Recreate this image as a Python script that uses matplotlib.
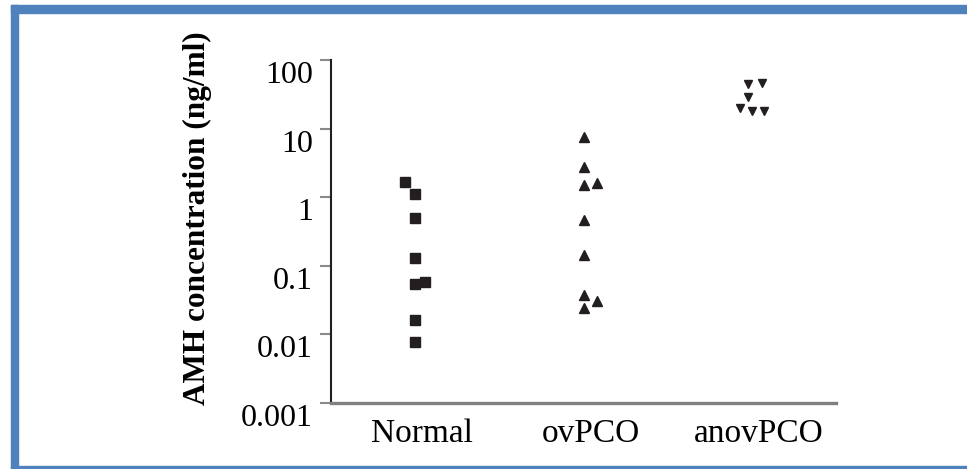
import matplotlib.pyplot as plt
import matplotlib.transforms as mtransforms
from matplotlib.patches import Rectangle

# grupos e valores de AMH (ng/ml)
grupos = ["Normal", "ovPCO", "anovPCO"]

normal_x = [0.94, 1.0, 1.0, 1.0, 1.0, 1.06, 1.0, 1.0]
normal_y = [1.67, 1.11, 0.50, 0.13, 0.054, 0.058, 0.016, 0.0077]

ovpco_x = [2.0, 2.0, 2.0, 2.08, 2.0, 2.0, 2.0, 2.08, 2.0]
ovpco_y = [7.5, 2.75, 1.5, 1.6, 0.47, 0.144, 0.037, 0.031, 0.024]

anovpco_x = [2.98, 3.06, 2.98, 2.93, 3.0, 3.07]
anovpco_y = [44, 46, 29, 20, 18, 18]

yticks = [0.001, 0.01, 0.1, 1, 10, 100]
yticklabels = ["0.001", "0.01", "0.1", "1", "10", "100"]

cor = "#231f20"
azul = "#4f81bd"

plt.rcParams["font.family"] = ["Liberation Serif", "DejaVu Serif"]

fig = plt.figure(figsize=(9.67, 4.69), dpi=100)
ax = fig.add_axes([331 / 967, 1 - 403 / 469, (836 - 331) / 967, (403 - 60) / 469])

ax.plot(normal_x, normal_y, "s", color=cor, markersize=6.5, linestyle="none")
ax.plot(ovpco_x, ovpco_y, "^", color=cor, markersize=6.5, linestyle="none")
ax.plot(anovpco_x, anovpco_y, "v", color=cor, markersize=6, linestyle="none")

ax.set_yscale("log")
ax.set_ylim(0.001, 100)
ax.set_xlim(0.5, 3.5)
ax.set_yticks(yticks)
ax.set_yticklabels(yticklabels, fontsize=23)
ax.minorticks_off()
ax.set_xticks([1, 2, 3])
ax.set_xticklabels(grupos, fontsize=24)

ax.tick_params(axis="y", length=8, width=1.5, color="#8a8a8a", pad=5)
ax.tick_params(axis="x", length=0, pad=11)

for s in ["top", "right"]:
    ax.spines[s].set_visible(False)
ax.spines["left"].set_color(cor)
ax.spines["left"].set_linewidth(1.5)
ax.spines["bottom"].set_color("#808080")
ax.spines["bottom"].set_linewidth(2.4)

# rotulos do eixo y ficam um pouco abaixo dos tracos
desloc = mtransforms.ScaledTranslation(0, -12 / 100, fig.dpi_scale_trans)
for lbl in ax.get_yticklabels():
    lbl.set_transform(lbl.get_transform() + desloc)
desloc_x = mtransforms.ScaledTranslation(7 / 100, 0, fig.dpi_scale_trans)
for lbl in ax.get_xticklabels():
    lbl.set_transform(lbl.get_transform() + desloc_x)

ax.set_ylabel("AMH concentration (ng/ml)", fontsize=22.5, fontweight="bold")
ax.yaxis.set_label_coords((212 - 331) / 505, (403 - 218) / 343)

# moldura azul
fig.patches.append(Rectangle((11 / 967, 0), 7 / 967, 1 - 5 / 469,
                             transform=fig.transFigure, color=azul, zorder=0))
fig.patches.append(Rectangle((11 / 967, 1 - 13 / 469), 1, 8 / 469,
                             transform=fig.transFigure, color=azul, zorder=0))
fig.patches.append(Rectangle((11 / 967, 0), 1, 3 / 469,
                             transform=fig.transFigure, color=azul, zorder=0))

fig.savefig("out.png", dpi=100)
